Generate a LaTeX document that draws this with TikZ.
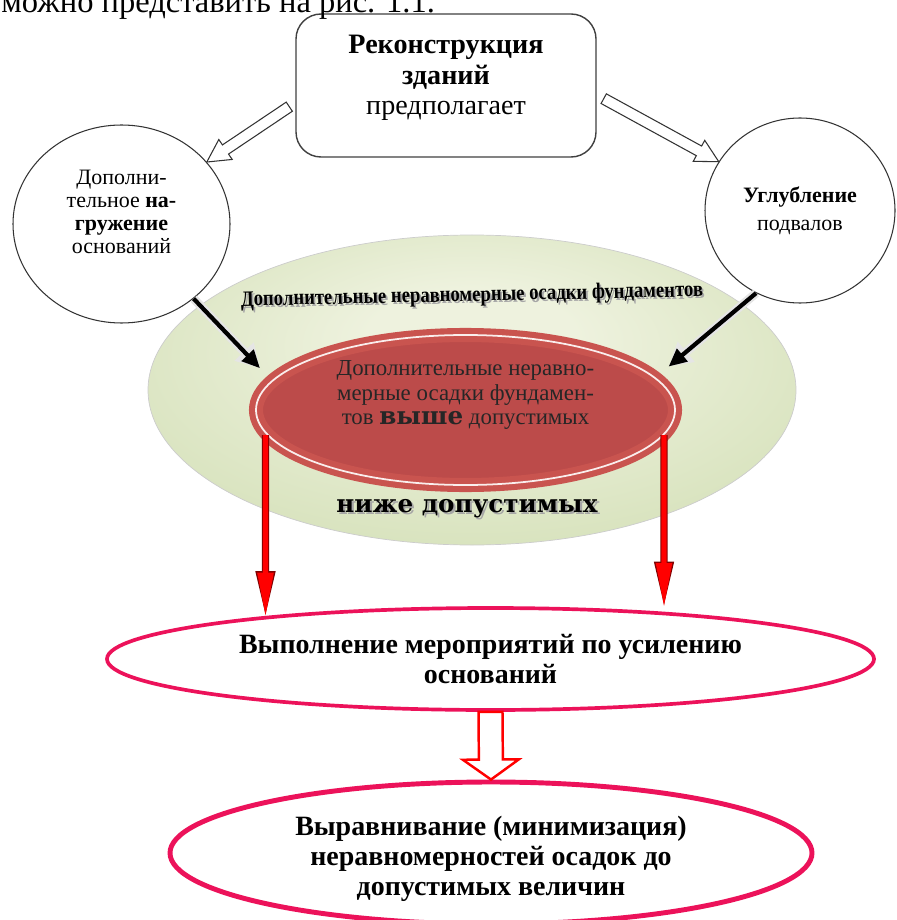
\documentclass[tikz,border=0pt]{standalone}
\usepackage{fontspec}
\setmainfont{Liberation Serif}
\newfontfamily\heavyfont{DejaVu Serif}
\usetikzlibrary{arrows.meta,calc,shapes.geometric}
\definecolor{rimred}{RGB}{201,84,79}
\definecolor{innred}{RGB}{188,75,74}
\definecolor{greenin}{RGB}{238,242,222}
\definecolor{greenout}{RGB}{196,213,160}
\definecolor{pinkline}{RGB}{236,18,90}
\pgfdeclareradialshading{greenglow}{\pgfpoint{0bp}{10bp}}{color(0bp)=(greenin); color(8bp)=(greenin); color(50bp)=(greenout)}
\newcommand\shadowtxt[1]{\rlap{\hspace{1.2pt}\raisebox{-1.2pt}{\color{black!35}#1}}#1}
\tikzset{>=Stealth, node distance=2cm}
\tikzset{
  hollow/.style args={#1/#2/#3}{to path={
    ($(\tikztostart)!#1!90:(\tikztotarget)$)
    -- ($($(\tikztotarget)!#3!(\tikztostart)$)!#1!-90:(\tikztostart)$)
    -- ($($(\tikztotarget)!#3!(\tikztostart)$)!#2!-90:(\tikztostart)$)
    -- (\tikztotarget)
    -- ($($(\tikztotarget)!#3!(\tikztostart)$)!#2!90:(\tikztostart)$)
    -- ($($(\tikztotarget)!#3!(\tikztostart)$)!#1!90:(\tikztostart)$)
    -- ($(\tikztostart)!#1!-90:(\tikztotarget)$)
    -- cycle}}
}

\begin{document}
\begin{tikzpicture}[
    bubble/.style={ellipse, draw=black!80, line width=0.6pt, fill=white, inner sep=0pt, align=center, font=\fontsize{12.5}{13}\selectfont},
    goal/.style={ellipse, draw=pinkline, fill=white, inner sep=0pt, align=center, font=\fontsize{15.9}{17.2}\selectfont\bfseries},
    dark/.style={line width=2.4pt, shorten >=0.3cm, -{Triangle[length=0.36cm,width=0.32cm]}, preaction={draw=white!80!gray, line width=5pt, -{Triangle[length=0.46cm,width=0.5cm]}}},
    redbar/.style={draw=red, line width=3pt, -{Triangle[length=0.9cm,width=0.3cm]}, preaction={draw=red!50!black, line width=4.2pt, -{Triangle[length=0.93cm,width=0.36cm]}}}]
  \useasboundingbox (0,0) rectangle (17.92,-18.4);

  % settlement zones
  \node[ellipse, shade, shading=greenglow, draw=black!20, line width=0.4pt, minimum width=12.96cm, minimum height=6.2cm] (base) at (9.44,-7.8) {};
  \node[ellipse, fill=innred, draw=rimred, line width=3.5pt, double=white!90!rimred, double distance=1pt, minimum width=8.38cm, minimum height=3cm] (inner) at (9.31,-8.2) {};
  \node[align=center, text=black!85, font=\fontsize{13}{13.8}\selectfont] (innertxt) at ([yshift=0.3cm]inner.center) {Дополнительные неравно-\\мерные осадки фундамен-\\тов {\heavyfont\bfseries\fontsize{14}{13.8}\selectfont выше} допустимых};
  \node[font=\fontsize{12.5}{12.5}\selectfont\bfseries, rotate=1.2] (basetop) at (9.44,-5.94) {\scalebox{0.85}[1]{\shadowtxt{Дополнительные неравномерные осадки фундаментов}}};
  \node[font=\heavyfont\bfseries\fontsize{14}{14}\selectfont] (basebot) at (9.34,-10.2) {\shadowtxt{ниже допустимых}};

  % causes
  \node[bubble, minimum width=4.34cm, minimum height=3.96cm, text depth=14pt] (lc) at (2.43,-4.48) {Дополни-\\тельное \textbf{на-}\\\textbf{гружение}\\оснований};
  \node[bubble, minimum width=3.8cm, minimum height=3.7cm] (rc) at (16.0,-4.21) {\textbf{Углубление}\\[3pt]подвалов};
  \node[draw=black!75, line width=0.8pt, rounded corners=0.5cm, fill=white, minimum width=6cm, minimum height=2.86cm, align=center, font=\fontsize{16}{17.3}\selectfont, text depth=12pt] (top) at (8.92,-1.71) {\textbf{Реконструкция}\\\textbf{зданий}\\предполагает};
  \node[anchor=base west, inner sep=0pt, font=\fontsize{18.5}{18.5}\selectfont] (intro) at (0.02,-0.26) {можно представить на рис. 1.1.};

  % measures
  \node[goal, line width=2.1pt, minimum width=15.34cm, minimum height=2.04cm] (act) at (9.81,-13.18) {Выполнение мероприятий по усилению\\оснований};
  \node[goal, line width=2.8pt, minimum width=12.84cm, minimum height=2.84cm, text height=52pt] (fin) at (9.82,-17.06) {Выравнивание (минимизация)\\неравномерностей осадок до\\допустимых величин};

  \draw[fill=white, draw=black!80, line width=0.6pt] ([xshift=-0.12cm]top.188) to[hollow=0.11cm/0.24cm/0.45cm] (lc.36);
  \draw[fill=white, draw=black!80, line width=0.6pt] ([xshift=0.14cm]top.-5.5) to[hollow=0.11cm/0.24cm/0.45cm] (rc.149);
  \draw[dark] (lc.-46) -- (inner.171);
  \draw[dark] (rc.242) -- (inner.10);
  \draw[redbar] ($(inner.center)+(-4,-0.5)$) -- ($(act.center)+(-4.5,0.826)$);
  \draw[redbar] ($(inner.center)+(3.97,-0.5)$) -- ($(act.center)+(3.47,1.02)$);
  \draw[fill=white, draw=red, line width=1.4pt] (act.south) to[hollow=0.24cm/0.56cm/0.4cm] (fin.north);
\end{tikzpicture}
\end{document}
